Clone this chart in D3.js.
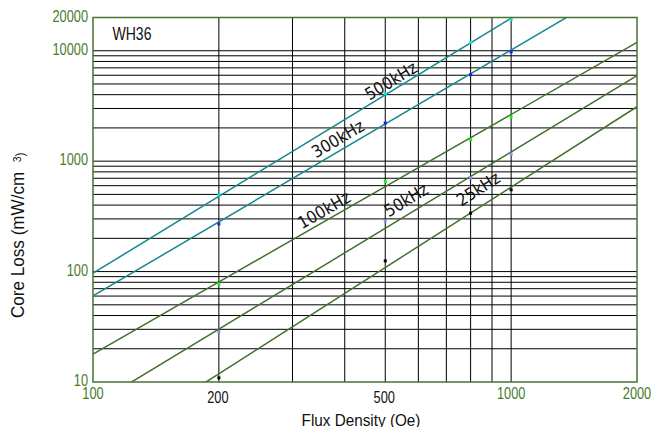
<!DOCTYPE html>
<html>
<head>
<meta charset="utf-8">
<script src="https://cdn.jsdelivr.net/npm/d3@7/dist/d3.min.js"></script>
<style>
  html, body { margin: 0; padding: 0; background: #fff; }
  svg { display: block; }
</style>
</head>
<body>
<svg id="chart" width="652" height="427"></svg>
<script>
// ---- data ----
const frequencies = ["500kHz", "300kHz", "100kHz", "50kHz", "25kHz"];
const lineFlux = [100, 2000];
const lineLoss500 = [96.7, 98000];
const lineLoss300 = [60.2, 47500];
const lineLoss100 = [17.9, 11920];
const lineLoss50 = [6.14, 5940];
const lineLoss25 = [2.22, 3110];

const markerFlux = [200, 500, 800, 1000];
const markerLoss500 = [495, 4084, 11900, 19150];
const markerLoss300 = [270, 2213, 6066, 9750];
const markerLoss100 = [77.3, 655, 1563, 2512];
const markerLoss50 = [28.2, 288, 703, 1159];
const markerLoss25 = [10.9, 125, 338, 551];

// label anchors (data coordinates)
const labelFlux = [516, 385, 357, 561, 834];
const labelLoss = [5358, 1596, 362, 446, 563];

const yGridValues = [20,30,40,50,60,70,80,90,100,200,300,400,500,600,700,800,900,1000,
                     2000,3000,4000,5000,6000,7000,8000,9000,10000];
const xGridValues = [200,300,400,500,600,700,800,900,1000];
const yTickLabels = [10, 100, 1000, 10000, 20000];
const xTickLabelsGreen = [100, 1000, 2000];
const xTickLabelsBlack = [200, 500];

// ---- styles ----
const lineColors = ["#13898b", "#13898b", "#44702f", "#44702f", "#44702f"];
const markerColors = ["#00e8e8", "#1a1aff", "#00ff00", "#8c8cff", "#000000"];
const green = "#4a7a2c";
const borderColor = "#4a7233";
const sans = "'Liberation Sans', Arial, sans-serif";

const svg = d3.select("#chart");
const L = 93, R = 637, T = 17.5, B = 382;
const x = d3.scaleLog().domain([100, 2000]).range([L, R]);
const y = d3.scaleLog().domain([10, 20000]).range([B, T]);

svg.append("defs").append("clipPath").attr("id", "plotclip")
  .append("rect").attr("x", L).attr("y", T).attr("width", R - L).attr("height", B - T);

// grid
svg.append("g").selectAll("line").data(yGridValues).join("line")
  .attr("x1", L).attr("x2", R).attr("y1", d => y(d)).attr("y2", d => y(d))
  .attr("stroke", "#000").attr("stroke-width", 1);
svg.append("g").selectAll("line").data(xGridValues).join("line")
  .attr("y1", T).attr("y2", B).attr("x1", d => x(d)).attr("x2", d => x(d))
  .attr("stroke", "#000").attr("stroke-width", 1);

// curves
const lineLosses = [lineLoss500, lineLoss300, lineLoss100, lineLoss50, lineLoss25];
const markerLosses = [markerLoss500, markerLoss300, markerLoss100, markerLoss50, markerLoss25];
const lineGen = d3.line().x(d => x(d[0])).y(d => y(d[1]));
const gc = svg.append("g").attr("clip-path", "url(#plotclip)");
frequencies.forEach((f, i) => {
  const pts = lineFlux.map((b, j) => [b, lineLosses[i][j]]);
  gc.append("path").attr("d", lineGen(pts)).attr("fill", "none")
    .attr("stroke", lineColors[i]).attr("stroke-width", 1.5);
});
frequencies.forEach((f, i) => {
  const pts = markerFlux.map((b, j) => [b, markerLosses[i][j]]);
  svg.append("g").selectAll("rect").data(pts).join("rect")
    .attr("x", d => x(d[0]) - 1.5).attr("y", d => y(d[1]) - 1.5)
    .attr("width", 3).attr("height", 3).attr("fill", markerColors[i]);
});

// border
svg.append("rect").attr("x", L).attr("y", T).attr("width", R - L).attr("height", B - T)
  .attr("fill", "none").attr("stroke", borderColor).attr("stroke-width", 1.5);

// line labels
frequencies.forEach((f, i) => {
  const p0 = [x(lineFlux[0]), y(lineLosses[i][0])];
  const p1 = [x(lineFlux[1]), y(lineLosses[i][1])];
  const ang = Math.atan2(p1[1] - p0[1], p1[0] - p0[0]) * 180 / Math.PI;
  const cx = x(labelFlux[i]), cy = y(labelLoss[i]);
  svg.append("text").attr("transform", `translate(${cx},${cy}) rotate(${ang})`)
    .attr("text-anchor", "middle").attr("dominant-baseline", "central")
    .attr("font-family", "'DejaVu Sans Condensed', 'DejaVu Sans', sans-serif")
    .attr("font-size", 17).attr("fill", "#111").text(f);
});

// tick labels (narrow sans)
svg.append("g").selectAll("text").data(yTickLabels).join("text")
  .attr("transform", d => `translate(88,${y(d) - 1.5}) scale(0.8,1)`)
  .attr("text-anchor", "end").attr("dominant-baseline", "central")
  .attr("font-family", sans).attr("font-size", 16).attr("fill", green)
  .text(d => d);
svg.append("g").selectAll("text").data(xTickLabelsGreen).join("text")
  .attr("transform", d => `translate(${x(d)},393) scale(0.8,1)`)
  .attr("text-anchor", "middle").attr("dominant-baseline", "central")
  .attr("font-family", sans).attr("font-size", 16).attr("fill", green)
  .text(d => d);
svg.append("g").selectAll("text").data(xTickLabelsBlack).join("text")
  .attr("transform", d => `translate(${x(d) - 1},397) scale(0.8,1)`)
  .attr("text-anchor", "middle").attr("dominant-baseline", "central")
  .attr("font-family", sans).attr("font-size", 16).attr("fill", "#111")
  .text(d => d);

// title inside
svg.append("text").attr("transform", "translate(112.5,33) scale(0.78,1)")
  .attr("dominant-baseline", "central")
  .attr("font-family", sans).attr("font-size", 18).attr("fill", "#111").text("WH36");

// axis titles
svg.append("text").attr("transform", "translate(361,426) scale(0.9,1)")
  .attr("text-anchor", "middle")
  .attr("font-family", sans).attr("font-size", 17).attr("fill", "#111")
  .text("Flux Density (Oe)");
const yt = svg.append("text").attr("transform", "translate(24,318) rotate(-90) scale(0.95,1)")
  .attr("text-anchor", "start")
  .attr("font-family", sans).attr("font-size", 18).attr("fill", "#111");
yt.append("tspan").text("Core Loss (mW/cm");
yt.append("tspan").attr("dx", 10).attr("dy", -3).attr("font-size", 11).text("3");
yt.append("tspan").attr("dy", 3).attr("font-size", 13).text(")");
</script>
</body>
</html>
